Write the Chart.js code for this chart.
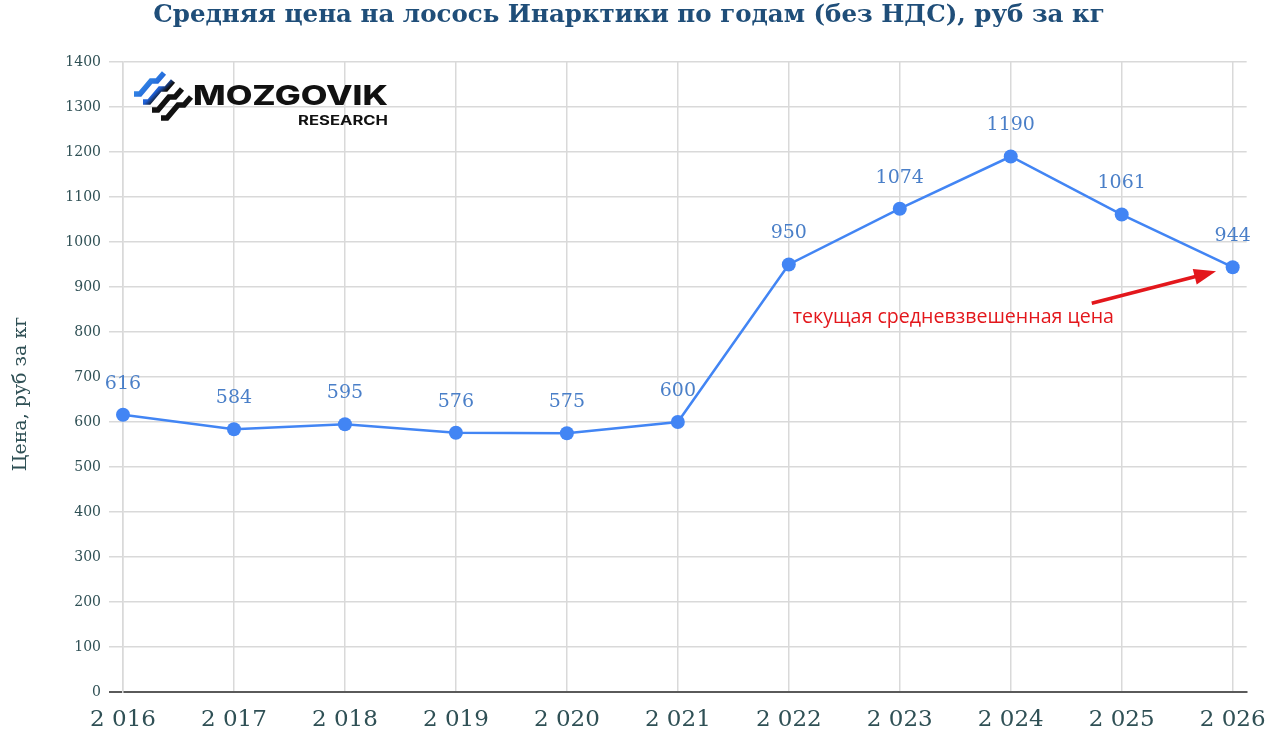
<!DOCTYPE html>
<html>
<head>
<meta charset="utf-8">
<script src="https://cdn.jsdelivr.net/npm/chart.js@4/dist/chart.umd.min.js"></script>
<style>
  html, body { margin: 0; padding: 0; background: #fff; }
  #wrap { width: 1280px; height: 740px; }
</style>
</head>
<body>
<div id="wrap"><canvas id="price-chart"></canvas></div>
<script>
/*----- data -----*/
const years = [2016, 2017, 2018, 2019, 2020, 2021, 2022, 2023, 2024, 2025, 2026]
const yearLabels = ['2 016', '2 017', '2 018', '2 019', '2 020', '2 021', '2 022', '2 023', '2 024', '2 025', '2 026']
const prices = [616, 584, 595, 576, 575, 600, 950, 1074, 1190, 1061, 944]

const chartTitle = 'Средняя цена на лосось Инарктики по годам (без НДС), руб за кг'
const yTitle = 'Цена, руб за кг'
const noteText = 'текущая средневзвешенная цена'

/*----- style -----*/
const blue = '#4285f4'
const labelBlue = '#4a7fc8'
const axisText = '#2f5055'
const gridGrey = '#d9d9d9'

/*----- plugins -----*/
const titlePlugin = {
  id: 'topTitle',
  afterDraw(chart) {
    const ctx = chart.ctx
    ctx.save()
    ctx.font = 'bold 24.5px "DejaVu Serif"'
    ctx.fillStyle = '#1f4e79'
    ctx.textAlign = 'center'
    ctx.textBaseline = 'middle'
    ctx.fillText(chartTitle, 629, 16)
    // y axis title, sits a bit below the plot middle
    ctx.font = '19px "DejaVu Serif"'
    ctx.fillStyle = axisText
    ctx.translate(21, 394)
    ctx.rotate(-Math.PI / 2)
    ctx.fillText(yTitle, 0, 0)
    ctx.restore()
  }
}

const valueLabels = {
  id: 'valueLabels',
  afterDatasetsDraw(chart) {
    const ctx = chart.ctx
    const meta = chart.getDatasetMeta(0)
    ctx.save()
    ctx.font = '19px "DejaVu Serif"'
    ctx.fillStyle = labelBlue
    ctx.textAlign = 'center'
    ctx.textBaseline = 'middle'
    meta.data.forEach((pt, i) => {
      ctx.fillText(prices[i], pt.x, pt.y - 31)
    })
    ctx.restore()
  }
}

// red note + arrow pointing at the last point
const notePlugin = {
  id: 'note',
  afterDatasetsDraw(chart) {
    const ctx = chart.ctx
    const xs = chart.scales.x
    const ys = chart.scales.y
    ctx.save()
    ctx.font = '19.6px "Open Sans"'
    ctx.fillStyle = '#e3171c'
    ctx.textBaseline = 'middle'
    ctx.fillText(noteText, xs.getPixelForValue(2022) + 4, ys.getPixelForValue(832))

    const x1 = xs.getPixelForValue(2024.73), y1 = ys.getPixelForValue(864)
    const x2 = xs.getPixelForValue(2025.85), y2 = ys.getPixelForValue(935)
    const ang = Math.atan2(y2 - y1, x2 - x1)
    ctx.strokeStyle = '#e3171c'
    ctx.lineWidth = 3.5
    ctx.beginPath()
    ctx.moveTo(x1, y1)
    ctx.lineTo(x2 - 12 * Math.cos(ang), y2 - 12 * Math.sin(ang))
    ctx.stroke()
    ctx.beginPath()
    ctx.moveTo(x2, y2)
    ctx.lineTo(x2 - 22 * Math.cos(ang) + 8 * Math.sin(ang), y2 - 22 * Math.sin(ang) - 8 * Math.cos(ang))
    ctx.lineTo(x2 - 22 * Math.cos(ang) - 8 * Math.sin(ang), y2 - 22 * Math.sin(ang) + 8 * Math.cos(ang))
    ctx.closePath()
    ctx.fill()
    ctx.restore()
  }
}

// fit text to a given width by squeezing/stretching it
function fitText(ctx, text, x, y, width) {
  const w = ctx.measureText(text).width
  ctx.save()
  ctx.translate(x, y)
  ctx.scale(width / w, 1)
  ctx.fillText(text, 0, 0)
  ctx.restore()
}

// logo in the top left corner of the plot
const logoPlugin = {
  id: 'logo',
  afterDatasetsDraw(chart) {
    const ctx = chart.ctx
    const ox = 134, oy = 72
    ctx.save()
    const grad = ctx.createLinearGradient(ox, oy, ox + 46, oy + 46)
    grad.addColorStop(0, '#45a8f2')
    grad.addColorStop(0.45, '#1e5fd6')
    grad.addColorStop(0.55, '#111')
    grad.addColorStop(1, '#111')
    ctx.strokeStyle = grad
    ctx.lineWidth = 5.5
    ctx.lineCap = 'butt'
    ctx.lineJoin = 'miter'
    for (let k = 0; k < 4; k++) {
      const sx = ox + k * 9, sy = oy + 22 + k * 8
      ctx.beginPath()
      ctx.moveTo(sx, sy)
      ctx.lineTo(sx + 6, sy)
      ctx.lineTo(sx + 17, sy - 13)
      ctx.lineTo(sx + 23, sy - 13)
      ctx.lineTo(sx + 30, sy - 21)
      ctx.stroke()
    }
    ctx.fillStyle = '#111'
    ctx.textBaseline = 'alphabetic'
    ctx.textAlign = 'left'
    ctx.font = '800 27px Inter'
    fitText(ctx, 'MOZGOVIK', 193, 105, 195)
    ctx.font = '700 13px Inter'
    fitText(ctx, 'RESEARCH', 298, 125, 90)
    ctx.restore()
  }
}

/*----- chart -----*/
new Chart(document.getElementById('price-chart'), {
  type: 'line',
  data: {
    datasets: [{
      data: years.map((y, i) => ({ x: y, y: prices[i] })),
      borderColor: blue,
      backgroundColor: blue,
      borderWidth: 2.5,
      pointRadius: 7,
      pointHoverRadius: 7,
      pointBackgroundColor: blue,
      pointBorderWidth: 0,
      tension: 0,
      clip: false
    }]
  },
  options: {
    responsive: true,
    maintainAspectRatio: false,
    animation: false,
    layout: { padding: { top: 62, right: 32, left: 0, bottom: 0 } },
    plugins: {
      legend: { display: false },
      title: { display: false },
      tooltip: { enabled: false }
    },
    scales: {
      x: {
        type: 'linear',
        min: 2016,
        max: 2026.126,
        afterFit: (s) => { s.height = 48 },
        ticks: {
          stepSize: 1,
          includeBounds: false,
          autoSkip: false,
          maxRotation: 0,
          padding: 14,
          color: axisText,
          font: { family: 'DejaVu Serif', size: 23 },
          callback: (v) => yearLabels[years.indexOf(v)]
        },
        grid: { color: gridGrey, lineWidth: 1.5, drawTicks: false },
        border: { display: true, color: '#5a5a5a', width: 2 }
      },
      y: {
        min: 0,
        max: 1400,
        afterFit: (s) => { s.width = 123 },
        ticks: {
          stepSize: 100,
          padding: 8,
          color: axisText,
          font: { family: 'DejaVu Serif', size: 14 },
          callback: (v) => String(v)
        },
        grid: {
          color: (c) => c.tick && c.tick.value === 0 ? '#5a5a5a' : gridGrey,
          lineWidth: (c) => c.tick && c.tick.value === 0 ? 2 : 1.5,
          tickLength: 14
        },
        border: { display: true, color: gridGrey, width: 1.5 }
      }
    }
  },
  plugins: [titlePlugin, logoPlugin, valueLabels, notePlugin]
})
</script>
</body>
</html>
